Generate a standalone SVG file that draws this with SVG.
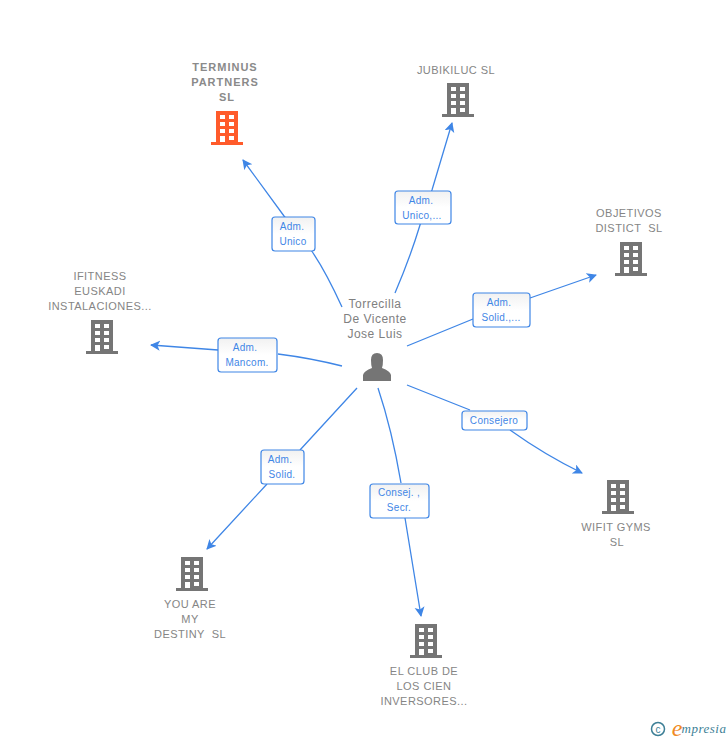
<svg xmlns="http://www.w3.org/2000/svg" width="728" height="740" viewBox="0 0 728 740">
<style>
.n{font:11px "Liberation Sans",Arial,sans-serif;fill:#858585;text-anchor:middle;letter-spacing:.45px;white-space:pre}
.t{font:bold 11px "Liberation Sans",Arial,sans-serif;fill:#8a8a8a;text-anchor:middle;letter-spacing:1px}
.c{font:12px "Liberation Sans",Arial,sans-serif;fill:#808080;text-anchor:middle;letter-spacing:.5px}
.l{font:10px "Liberation Sans",Arial,sans-serif;fill:#3f86e6;text-anchor:middle;letter-spacing:.3px}
.e{fill:none;stroke:#3f86e6;stroke-width:1.3}
.b{fill:url(#g);stroke:#3f86e6;stroke-width:1.2}
</style>
<defs>
<linearGradient id="g" x1="0" y1="0" x2="0" y2="1"><stop offset="0" stop-color="#f1f1f1"/><stop offset=".5" stop-color="#fff"/></linearGradient>
<marker id="a" markerWidth="12" markerHeight="12" refX="9" refY="5" orient="auto" markerUnits="userSpaceOnUse"><path d="M0 0L10 5L0 10L2.5 5Z" fill="#3f86e6"/></marker>
<g id="bld"><path fill-rule="evenodd" d="M-11 -17H11V14H16V17H-16V14H-11ZM-7 -13V-9H-2V-13ZM2 -13V-9H7V-13ZM-7 -6V-2H-2V-6ZM2 -6V-2H7V-6ZM-7 1V5H-2V1ZM2 1V5H7V1ZM-7 8V14H-2V8ZM2 8V12H7V8Z"/></g>
</defs>
<g id="connectors">
<path class="e" marker-end="url(#a)" d="M342 307Q325 270 311 250L284 216L243 160"/>
<path class="e" marker-end="url(#a)" d="M395 293Q410 258 420 225L432 190L452 123"/>
<path class="e" marker-end="url(#a)" d="M407 346L473 319M530 298L596 275"/>
<path class="e" marker-end="url(#a)" d="M342 366Q310 358 278 354M218 350L151 345"/>
<path class="e" marker-end="url(#a)" d="M407 385L470 410M510 430Q545 455 582 473"/>
<path class="e" marker-end="url(#a)" d="M378 388Q392 430 401 483M405 518L421 616"/>
<path class="e" marker-end="url(#a)" d="M357 388L300 450M267 484L207 549"/>
</g>
<g id="labels">
<g><rect class="b" x="272" y="217" width="43" height="34" rx="3"/><text class="l" x="292" y="230">Adm.</text><text class="l" x="293" y="245">Unico</text></g>
<g><rect class="b" x="395" y="191" width="56" height="33" rx="3"/><text class="l" x="421" y="204">Adm.</text><text class="l" x="422" y="219">Unico,...</text></g>
<g><rect class="b" x="473" y="293" width="57" height="34" rx="3"/><text class="l" x="499" y="306">Adm.</text><text class="l" x="501" y="321">Solid.,...</text></g>
<g><rect class="b" x="218" y="338" width="59" height="34" rx="3"/><text class="l" x="245" y="351">Adm.</text><text class="l" x="247" y="366">Mancom.</text></g>
<g><rect class="b" x="462" y="411" width="65" height="19" rx="3"/><text class="l" x="494" y="424">Consejero</text></g>
<g><rect class="b" x="370" y="484" width="59" height="34" rx="3"/><text class="l" x="399" y="496">Consej. ,</text><text class="l" x="399" y="511">Secr.</text></g>
<g><rect class="b" x="261" y="450" width="43" height="34" rx="3"/><text class="l" x="280" y="463">Adm.</text><text class="l" x="282" y="478">Solid.</text></g>
</g>
<g id="center">
<text class="c" x="375" y="308">Torrecilla</text><text class="c" x="375" y="323">De Vicente</text><text class="c" x="375" y="338">Jose Luis</text>
<path fill="#757575" d="M363 381V375Q364 371 372 368Q371 365 371 360Q371 353 377 353Q383 353 383 360Q383 365 382 368Q390 371 391 375V381Z"/>
</g>
<g id="n1"><text class="t" x="225" y="71">TERMINUS</text><text class="t" x="225" y="86">PARTNERS</text><text class="t" x="227" y="101">SL</text><use href="#bld" x="227" y="128" fill="#ff5b2b"/></g>
<g id="n2"><text class="n" x="456" y="74">JUBIKILUC SL</text><use href="#bld" x="458" y="100" fill="#757575"/></g>
<g id="n3"><text class="n" x="629" y="217">OBJETIVOS</text><text class="n" x="629" y="232">DISTICT  SL</text><use href="#bld" x="631" y="259" fill="#757575"/></g>
<g id="n4"><text class="n" x="100" y="280">IFITNESS</text><text class="n" x="100" y="295">EUSKADI</text><text class="n" x="100" y="310">INSTALACIONES...</text><use href="#bld" x="102" y="337" fill="#757575"/></g>
<g id="n5"><use href="#bld" x="618" y="497" fill="#757575"/><text class="n" x="616" y="531">WIFIT GYMS</text><text class="n" x="617" y="546">SL</text></g>
<g id="n6"><use href="#bld" x="426" y="641" fill="#757575"/><text class="n" x="424" y="675">EL CLUB DE</text><text class="n" x="424" y="690">LOS CIEN</text><text class="n" x="424" y="705">INVERSORES...</text></g>
<g id="n7"><use href="#bld" x="192" y="574" fill="#757575"/><text class="n" x="190" y="608">YOU ARE</text><text class="n" x="190" y="623">MY</text><text class="n" x="190" y="638">DESTINY  SL</text></g>
<g id="logo"><circle cx="658" cy="729" r="6.5" fill="none" stroke="#3d7f96" stroke-width="1.5"/><text x="658" y="732.500" font-family="Liberation Sans,sans-serif" font-size="10" fill="#3d7f96" text-anchor="middle">c</text><text x="677" y="736" font-family="Liberation Serif,serif" font-style="italic" font-size="24" fill="#f08a24" text-anchor="middle">e</text><text x="704" y="733" font-family="Liberation Serif,serif" font-style="italic" font-size="13" fill="#3d7f96" text-anchor="middle" letter-spacing=".5">mpresia</text></g>
</svg>
